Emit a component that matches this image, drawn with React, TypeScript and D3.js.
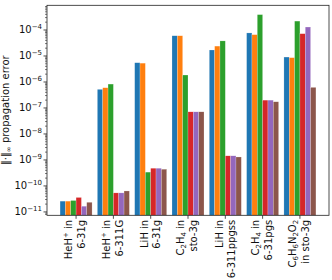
import React, { useEffect, useRef } from 'react';
import * as d3 from 'd3';

// group labels: [line 1 parts, line 2 parts]; parts = [text, 'sub' | 'sup' | '']
type Part = [string, string];
const groupLabels: Part[][][] = [
  [[['HeH', ''], ['+', 'sup'], [' in', '']], [['6-31g', '']]],
  [[['HeH', ''], ['+', 'sup'], [' in', '']], [['6-311G', '']]],
  [[['LiH in', '']], [['6-31g', '']]],
  [[['C', ''], ['2', 'sub'], ['H', ''], ['4', 'sub'], [' in', '']], [['sto-3g', '']]],
  [[['LiH in', '']], [['6-311ppgss', '']]],
  [[['C', ''], ['2', 'sub'], ['H', ''], ['4', 'sub'], [' in', '']], [['6-31pgs', '']]],
  [[['C', ''], ['6', 'sub'], ['H', ''], ['6', 'sub'], ['N', ''], ['2', 'sub'], ['O', ''], ['2', 'sub']], [['in sto-3g', '']]],
];

const seriesColors = ['#1f77b4', '#ff7f0e', '#2ca02c', '#d62728', '#9467bd', '#8c564b'];

// one array per series, one value per group
const series0 = [2.6e-11, 5.2e-7, 5.5e-6, 6.0e-5, 1.7e-5, 7.7e-5, 9.1e-6];
const series1 = [2.6e-11, 6.0e-7, 5.3e-6, 6.0e-5, 2.4e-5, 6.6e-5, 8.6e-6];
const series2 = [2.75e-11, 8.3e-7, 3.4e-10, 1.85e-6, 3.8e-5, 3.9e-4, 2.2e-4];
const series3 = [3.6e-11, 5.4e-11, 4.8e-10, 7.1e-8, 1.44e-9, 2.0e-7, 7.2e-5];
const series4 = [1.66e-11, 5.4e-11, 4.8e-10, 7.1e-8, 1.44e-9, 2.0e-7, 1.3e-4];
const series5 = [2.35e-11, 6.4e-11, 4.4e-10, 7.1e-8, 1.3e-9, 1.73e-7, 6.2e-7];
const allSeries = [series0, series1, series2, series3, series4, series5];

const yTickExps = [-11, -10, -9, -8, -7, -6, -5, -4];

const W = 332;
const H = 280;
const left = 47;
const right = 329;
const top = 5.3;
const bottom = 215.3;

const App: React.FC = () => {
  const svgRef = useRef<SVGSVGElement>(null);

  useEffect(() => {
    if (!svgRef.current) return;
    const svg = d3.select(svgRef.current);
    svg.selectAll('*').remove();

    const groups = groupLabels.map((_, i) => String(i));
    const x = d3.scaleBand<string>()
      .domain(groups)
      .range([left, right])
      .paddingInner(0.142)
      .paddingOuter(0.35);
    const xs = d3.scaleBand<number>()
      .domain(d3.range(allSeries.length))
      .range([0, x.bandwidth()]);
    const y = d3.scaleLog()
      .domain([10 ** -11.13, 10 ** -3.05])
      .range([bottom, top]);

    // bars
    allSeries.forEach((vals, s) => {
      svg.append('g')
        .selectAll('rect')
        .data(vals)
        .join('rect')
        .attr('x', (_, i) => (x(String(i)) as number) + (xs(s) as number))
        .attr('width', xs.bandwidth())
        .attr('y', d => y(d))
        .attr('height', d => bottom - y(d))
        .attr('fill', seriesColors[s])
        .attr('stroke', 'white')
        .attr('stroke-opacity', 0.5)
        .attr('stroke-width', 0.4);
    });

    const font = 'DejaVu Sans, sans-serif';
    const fs = 10;

    // y ticks, major + minor
    const minor: number[] = [];
    for (let e = -12; e <= -3; e++) {
      for (let m = 2; m <= 9; m++) {
        const v = m * 10 ** e;
        if (v >= y.domain()[0] && v <= y.domain()[1]) minor.push(v);
      }
    }
    svg.append('g').selectAll('line').data(minor).join('line')
      .attr('x1', left - 2).attr('x2', left)
      .attr('y1', d => y(d)).attr('y2', d => y(d))
      .attr('stroke', '#222').attr('stroke-width', 0.6);

    const yt = svg.append('g').selectAll('g').data(yTickExps).join('g')
      .attr('transform', d => `translate(0,${y(10 ** d)})`);
    yt.append('line').attr('x1', left - 3.5).attr('x2', left)
      .attr('stroke', '#222').attr('stroke-width', 0.8);
    const ytText = yt.append('text')
      .attr('x', left - 5).attr('dy', '0.35em')
      .attr('text-anchor', 'end')
      .attr('font-family', font).attr('font-size', fs).attr('fill', '#111');
    ytText.append('tspan').text('10');
    ytText.append('tspan').attr('font-size', 7).attr('dy', -4.5).text(d => `\u2212${-d}`);

    // x ticks and labels
    const xt = svg.append('g').selectAll('g').data(groupLabels).join('g')
      .attr('transform', (_, i) => `translate(${(x(String(i)) as number) + x.bandwidth() / 2},0)`);
    xt.append('line').attr('y1', bottom).attr('y2', bottom + 3.5)
      .attr('stroke', '#222').attr('stroke-width', 0.8);
    xt.each(function (lines) {
      const g = d3.select(this);
      lines.forEach((parts, li) => {
        const isMath = parts.some(p => p[1] !== '');
        const off = li === 0 ? (isMath ? -3.8 : -2.2) : 9.2;
        const t = g.append('text')
          .attr('transform', `translate(${off},${bottom + 4.5}) rotate(-90)`)
          .attr('text-anchor', 'end')
          .attr('font-family', font).attr('font-size', fs).attr('fill', '#111');
        let shift = 0;
        parts.forEach(([txt, kind]) => {
          const target = kind === 'sub' ? 2 : kind === 'sup' ? -4 : 0;
          const ts = t.append('tspan').text(txt).attr('dy', target - shift);
          if (kind) ts.attr('font-size', 7);
          shift = target;
        });
      });
    });

    // frame
    svg.append('rect')
      .attr('x', left).attr('y', top)
      .attr('width', right - left).attr('height', bottom - top)
      .attr('fill', 'none').attr('stroke', '#222').attr('stroke-width', 0.8);

    // y label
    const yl = svg.append('text')
      .attr('transform', `translate(8.5,${(top + bottom) / 2}) rotate(-90)`)
      .attr('text-anchor', 'middle')
      .attr('font-family', font).attr('font-size', fs).attr('fill', '#111');
    yl.append('tspan').text('\u2016\u00b7\u2016');
    yl.append('tspan').attr('font-size', 7).attr('dy', 2).text('\u221e');
    yl.append('tspan').attr('dy', -2).text(' propagation error');
  }, []);

  return (
    <svg ref={svgRef} width={W} height={H}
      style={{ position: 'absolute', left: 0, top: 0, background: 'white' }} />
  );
};

export default App;
